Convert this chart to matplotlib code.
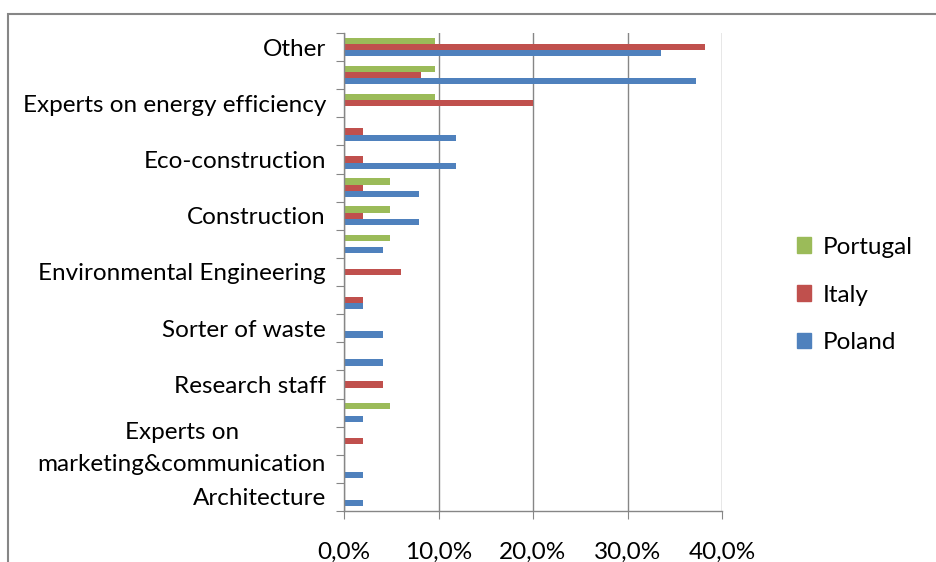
import numpy as np
import matplotlib
matplotlib.use('Agg')
import matplotlib.pyplot as plt
from matplotlib.patches import Rectangle, Patch
from matplotlib.ticker import FuncFormatter

# categories from bottom to top; Excel skipped every second label
labels = ['Architecture', '', 'Experts on\nmarketing&communication', '', 'Research staff', '',
          'Sorter of waste', '', 'Environmental Engineering', '', 'Construction', '',
          'Eco-construction', '', 'Experts on energy efficiency', '', 'Other']

poland = [2.0, 2.0, 0, 2.0, 0, 4.1, 4.1, 2.0, 0, 4.1, 7.9, 7.9, 11.9, 11.9, 0, 37.3, 33.5]
italy = [0, 0, 2.0, 0, 4.1, 0, 0, 2.0, 6.0, 0, 2.0, 2.0, 2.0, 2.0, 20.0, 8.1, 38.2]
portugal = [0, 0, 0, 4.9, 0, 0, 0, 0, 0, 4.9, 4.9, 4.9, 0, 0, 9.6, 9.6, 9.6]

blue = '#4F81BD'
red = '#C0504D'
green = '#9BBB59'
grey = '#868686'

plt.rcParams['font.family'] = ['Lato', 'DejaVu Sans']

fig = plt.figure(figsize=(9.36, 5.62), dpi=100)
ax = fig.add_axes([344 / 936, 1 - 511 / 562, (722 - 344) / 936, (511 - 33) / 562])

y = np.arange(len(labels))
h = 0.22
ax.barh(y - h, poland, height=h, color=blue, label='Poland')
ax.barh(y, italy, height=h, color=red, label='Italy')
ax.barh(y + h, portugal, height=h, color=green, label='Portugal')

ax.set_xlim(0, 40)
ax.set_ylim(-0.5, len(labels) - 0.5)
ax.set_xticks([0, 10, 20, 30, 40])
ax.xaxis.set_major_formatter(FuncFormatter(lambda v, p: f'{v:.1f}%'.replace('.', ',')))
ax.set_yticks(np.arange(len(labels) + 1) - 0.5, minor=False)
ax.set_yticklabels([])
ax.set_yticks(y, minor=True)
ax.set_yticklabels(labels, minor=True, fontsize=17.5, multialignment='center', linespacing=1.65)
ax.tick_params(axis='y', which='minor', length=0, pad=13)
ax.tick_params(axis='y', which='major', length=6, color=grey, direction='out')
ax.tick_params(axis='x', length=6, color=grey, labelsize=17.5, pad=16)

ax.grid(axis='x', color=grey, linewidth=1)
ax.set_axisbelow(True)
for s in ['top', 'right']:
    ax.spines[s].set_visible(False)
for s in ['left', 'bottom']:
    ax.spines[s].set_color(grey)
    ax.spines[s].set_linewidth(1)

handles = [Patch(color=green), Patch(color=red), Patch(color=blue)]
fig.legend(handles, ['Portugal', 'Italy', 'Poland'], loc='center left',
           bbox_to_anchor=(775 / 936, 1 - 295 / 562), frameon=False, fontsize=17.5,
           handlelength=0.6, handleheight=0.6, handletextpad=0.45, labelspacing=1.1)

# chart area border (runs off the image on the right and bottom)
fig.patches.append(Rectangle((8 / 936, -0.1), 1.2, 1 - 14 / 562 + 0.1, transform=fig.transFigure,
                             fill=False, edgecolor=grey, linewidth=1.5))

fig.savefig('out.png', dpi=100)
